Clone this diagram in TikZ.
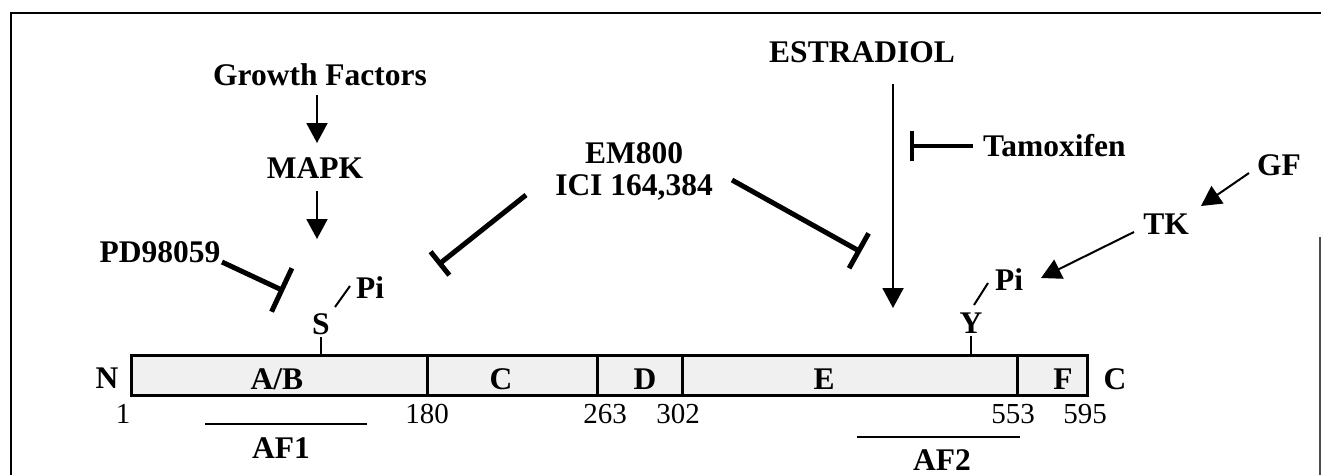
\documentclass[tikz,border=0pt]{standalone}
\usepackage{fontspec}
\setmainfont{Liberation Serif}
\usetikzlibrary{arrows.meta}
\begin{document}
\begin{tikzpicture}[x=1pt,y=-1pt,
  lbl/.style={font=\bfseries\fontsize{31.5}{31.5}\selectfont, inner sep=0pt, text height=20.5pt, text depth=0pt},
  num/.style={font=\fontsize{29}{29}\selectfont, inner sep=0pt, text height=19pt, text depth=0pt},
  act/.style={line width=2pt, -{Triangle[length=20pt,width=21pt]}},
  inh/.style={line width=5pt, -{Bar[width=#1]}},
  thinln/.style={line width=2pt},
  receptorbox/.style={draw, line width=3pt, fill=black!6}
]
\useasboundingbox (0,0) rectangle (1321,475);

% frame
\draw[line width=2pt] (11,475) -- (11,13) -- (1321,13);
\draw[line width=2pt, black!70] (1320,237) -- (1320,475);

% receptor domains
\draw[receptorbox] (131,355) rectangle (1087,395);
\foreach \xx in {427,597,682,1017} \draw[line width=3pt] (\xx,355) -- (\xx,395);
\node[lbl] (ab) at (277,379) {A/B};
\node[lbl] (dc) at (501,379) {C};
\node[lbl] (dd) at (645,379) {D};
\node[lbl] (de) at (824,379) {E};
\node[lbl] (df) at (1063,379) {F};
\node[lbl] (nterm) at (107,378) {N};
\node[lbl] (cterm) at (1115,379) {C};

% residue numbers
\node[num] (r1) at (123,414) {1};
\node[num] (r180) at (427,414) {180};
\node[num] (r263) at (605,414) {263};
\node[num] (r302) at (678,414) {302};
\node[num] (r553) at (1013,414) {553};
\node[num] (r595) at (1085,414) {595};

% activation functions
\coordinate (af1a) at (205,424); \coordinate (af1b) at (367,424);
\draw[thinln] (af1a) -- (af1b);
\node[lbl] (af1) at (281,448) {AF1};
\coordinate (af2a) at (857,437); \coordinate (af2b) at (1020,437);
\draw[thinln] (af2a) -- (af2b);
\node[lbl] (af2) at (942,460) {AF2};

% serine phosphorylation site
\node[lbl] (ser) at (321,324) {S};
\coordinate (serbase) at (321,355);
\draw[thinln] (ser.south) ++(0,3) -- (serbase);
\node[lbl] (pil) at (370,288) {Pi};
\coordinate (spa) at (335,307); \coordinate (spb) at (350,286);
\draw[thinln] (spa) -- (spb);

% tyrosine phosphorylation site
\node[lbl] (tyr) at (971,323) {Y};
\coordinate (tyrbase) at (971,355);
\draw[thinln] (tyr.south) ++(0,3) -- (tyrbase);
\node[lbl] (pir) at (1009,280) {Pi};
\coordinate (ypa) at (974,305); \coordinate (ypb) at (988,283);
\draw[thinln] (ypa) -- (ypb);

% growth factor / MAPK pathway
\node[lbl] (gfs) at (320,75) {Growth Factors};
\node[lbl] (mapk) at (315,168) {MAPK};
\coordinate (mapkin) at (317,143);
\coordinate (sarr) at (317,239);
\draw[act] (317,95) -- (mapkin);
\draw[act] (317,191) -- (sarr);

\node[lbl] (pd) at (160,252) {PD98059};
\coordinate (pdstop) at (284,291);
\draw[inh=48pt] (222,262) -- (pdstop);

% pure antiestrogens
\node[lbl] (em) at (634,153) {EM800};
\node[lbl] (ici) at (634,185) {ICI 164,384};
\coordinate (emstopl) at (438,265);
\coordinate (emstopr) at (861,252);
\draw[inh=30pt] (526,195) -- (emstopl);
\draw[inh=40pt] (732,180) -- (emstopr);

% estradiol and tamoxifen
\node[lbl] (estr) at (862,52) {ESTRADIOL};
\coordinate (estrin) at (893,308);
\draw[act] (893,84) -- (estrin);
\node[lbl, anchor=west] (tam) at (983,146) {Tamoxifen};
\coordinate (tamstop) at (910,146);
\draw[line width=4pt, -{Bar[width=30pt]}] (973,146) -- (tamstop);

% GF / TK pathway
\node[lbl] (gf) at (1279,165) {GF};
\node[lbl] (tk) at (1166,224) {TK};
\coordinate (tkin) at (1201,206);
\coordinate (piin) at (1041,278);
\draw[act] (1249,173) -- (tkin);
\draw[act] (1134,232) -- (piin);
\end{tikzpicture}
\end{document}
